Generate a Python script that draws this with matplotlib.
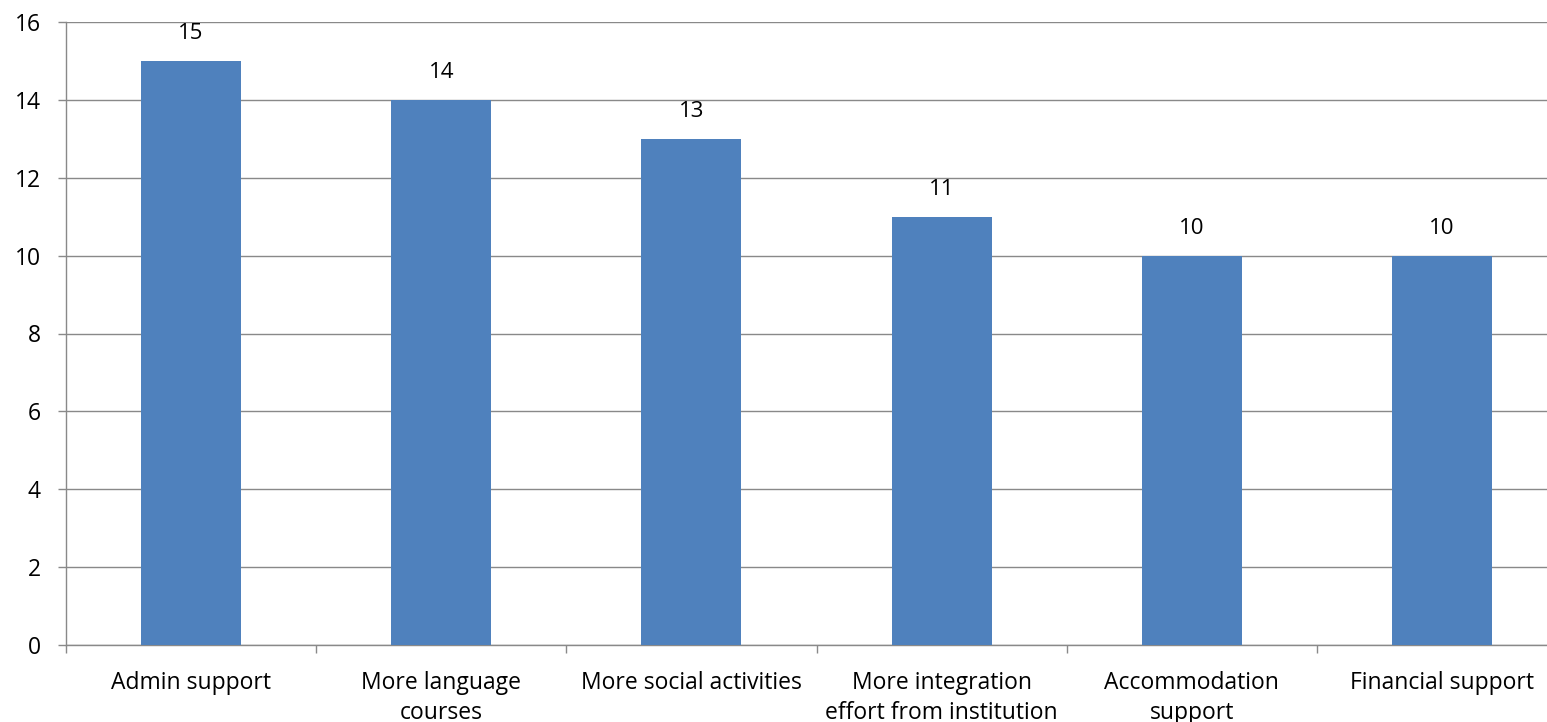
import numpy as np
import matplotlib.pyplot as plt

categories = ["Admin support", "More language\ncourses", "More social activities",
              "More integration\neffort from institution", "Accommodation\nsupport",
              "Financial support"]
values = [15, 14, 13, 11, 10, 10]

plt.rcParams['font.family'] = ['Open Sans', 'DejaVu Sans']

fig = plt.figure(figsize=(15.47, 7.22), dpi=100)
W, H = 1547, 722
# axes runs past the right edge, like the original
ax = fig.add_axes([66 / W, (H - 645) / H, 1501 / W, 623 / H])

x = np.arange(len(categories))
ax.bar(x, values, width=0.4, color="#4F81BD", zorder=3)
for xi, v in zip(x, values):
    ax.annotate(str(v), (xi, v), xytext=(0, 12), textcoords="offset points",
                ha="center", va="bottom", fontsize=16)

ax.set_xlim(-0.5, len(categories) - 0.5)
ax.set_ylim(0, 16)
ax.set_yticks(np.arange(0, 17, 2))
ax.yaxis.grid(True, color="#898989", linewidth=1.0, zorder=0)

ax.set_xticks(x)
ax.set_xticklabels(categories, fontsize=16.5, linespacing=1.3)
ax.set_xticks(np.arange(-0.5, len(categories), 1), minor=True)
ax.tick_params(axis="x", which="major", length=0, pad=19)
ax.tick_params(axis="x", which="minor", length=6, color="#898989", width=1)
ax.tick_params(axis="y", length=6, color="#898989", width=1, labelsize=16.5, pad=12)

for side in ["top", "right"]:
    ax.spines[side].set_visible(False)
for side in ["left", "bottom"]:
    ax.spines[side].set_color("#898989")
    ax.spines[side].set_linewidth(1.0)

fig.savefig("out.png", dpi=100)
